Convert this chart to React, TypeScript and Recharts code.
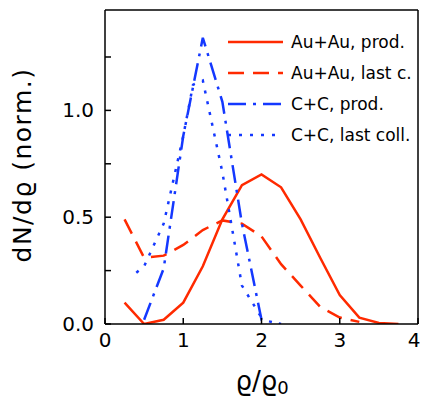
import React from 'react';
import { LineChart, Line, XAxis, YAxis } from 'recharts';

// Au+Au, production points
const auProdX = [0.25, 0.5, 0.75, 1.0, 1.25, 1.5, 1.75, 2.0, 2.25, 2.5, 2.75, 3.0, 3.25, 3.5, 3.75];
const auProdY = [0.1, 0.0, 0.02, 0.1, 0.27, 0.49, 0.65, 0.7, 0.64, 0.49, 0.31, 0.135, 0.03, 0.005, 0.0];

// Au+Au, last collision
const auLastX = [0.25, 0.5, 0.75, 1.0, 1.25, 1.5, 1.75, 2.0, 2.25, 2.5, 2.75, 3.0, 3.25];
const auLastY = [0.49, 0.31, 0.32, 0.37, 0.44, 0.485, 0.47, 0.41, 0.28, 0.18, 0.08, 0.03, 0.01];

// C+C, production points
const ccProdX = [0.5, 0.75, 1.0, 1.25, 1.5, 1.75, 2.0, 2.25];
const ccProdY = [0.02, 0.26, 0.88, 1.34, 1.04, 0.47, 0.02, 0.0];

// C+C, last collision
const ccLastX = [0.4, 0.5, 0.75, 1.0, 1.125, 1.25, 1.5, 1.75, 2.0];
const ccLastY = [0.24, 0.27, 0.47, 0.88, 1.12, 1.14, 0.71, 0.18, 0.03];

const xTicks = [0, 1, 2, 3, 4];
const yTicks = [0, 0.25, 0.5, 0.75, 1.0, 1.25];
const yLabelled = [0, 0.5, 1.0];

const RED = '#ff2a00';
const BLUE = '#1438ff';
const FONT = "'DejaVu Sans', sans-serif";

const toPoints = (xs: number[], ys: number[]) => xs.map((x, i) => ({ x, y: ys[i] }));

const series = [
  { name: 'Au+Au, prod.', data: toPoints(auProdX, auProdY), color: RED, dash: undefined },
  { name: 'Au+Au, last c.', data: toPoints(auLastX, auLastY), color: RED, dash: '16 9' },
  { name: 'C+C, prod.', data: toPoints(ccProdX, ccProdY), color: BLUE, dash: '18 7 3 7' },
  { name: 'C+C, last coll.', data: toPoints(ccLastX, ccLastY), color: BLUE, dash: '3 8' },
];

const LegendBox = () => (
  <svg width={190} height={120} style={{ display: 'block' }}>
    {series.map((s, i) => {
      const y = 12 + i * 31;
      return (
        <g key={s.name}>
          <line x1={2} x2={57} y1={y} y2={y} stroke={s.color} strokeWidth={2.5} strokeDasharray={s.dash} />
          <text x={65} y={y} dominantBaseline="central" fontSize={17} fontFamily={FONT} fill="#000">
            {s.name}
          </text>
        </g>
      );
    })}
  </svg>
);

// bottom tick label; the last one is nudged left so it stays inside the page
const XTick = (props: any) => {
  const { x, y, payload } = props;
  const last = payload.value === xTicks[xTicks.length - 1];
  return (
    <text x={last ? x - 4 : x} y={y} dy="0.71em" textAnchor="middle" fontSize={20} fontFamily={FONT} fill="#000">
      {payload.value}
    </text>
  );
};

const App: React.FC = () => {
  const tickStyle = { fontSize: 20, fill: '#000', fontFamily: FONT };
  return (
    <div style={{ position: 'relative', width: 421, height: 404, background: '#fff' }}>
      <style>{'body { margin: 0; }'}</style>
      <LineChart width={421} height={404} margin={{ top: 10, right: 3, bottom: 0, left: 0 }}>
        <XAxis
          xAxisId="b"
          dataKey="x"
          type="number"
          domain={[0, 4]}
          ticks={xTicks}
          interval={0}
          height={80}
          stroke="#000"
          strokeWidth={1.5}
          tickSize={-6}
          tickMargin={15}
          tick={<XTick />}
          allowDuplicatedCategory={false}
          label={{
            content: () => (
              <text x={262} y={390} textAnchor="middle" fontSize={26} fontFamily={FONT} fill="#000">
                ϱ/ϱ<tspan fontSize={18} dy={4}>0</tspan>
              </text>
            ),
          }}
        />
        <XAxis
          xAxisId="t"
          orientation="top"
          mirror
          dataKey="x"
          type="number"
          domain={[0, 4]}
          ticks={xTicks}
          interval={0}
          stroke="#000"
          strokeWidth={1.5}
          tickSize={6}
          tick={false}
          allowDuplicatedCategory={false}
        />
        <YAxis
          yAxisId="l"
          type="number"
          domain={[0, 1.47]}
          ticks={yTicks}
          interval={0}
          width={105}
          stroke="#000"
          strokeWidth={1.5}
          tickSize={-6}
          tickMargin={17}
          tick={tickStyle}
          tickFormatter={(v: number) => (yLabelled.includes(v) ? v.toFixed(1) : '')}
          allowDataOverflow
          label={{
            content: () => (
              <text
                x={22}
                y={165}
                transform="rotate(-90 22 165)"
                textAnchor="middle"
                dominantBaseline="central"
                fontSize={25}
                letterSpacing={1.5}
                fontFamily={FONT}
                fill="#000"
              >
                dN/dϱ (norm.)
              </text>
            ),
          }}
        />
        <YAxis
          yAxisId="r"
          orientation="right"
          mirror
          type="number"
          domain={[0, 1.47]}
          ticks={yTicks}
          interval={0}
          stroke="#000"
          strokeWidth={1.5}
          tickSize={6}
          tick={false}
          allowDataOverflow
        />
        {series.map((s, i) => (
          <Line
            key={s.name}
            xAxisId={i % 2 === 0 ? 'b' : 't'}
            yAxisId={i % 2 === 0 ? 'l' : 'r'}
            data={s.data}
            dataKey="y"
            type="linear"
            stroke={s.color}
            strokeWidth={2.5}
            strokeDasharray={s.dash}
            dot={false}
            activeDot={false}
            isAnimationActive={false}
          />
        ))}
      </LineChart>
      <div style={{ position: 'absolute', left: 226, top: 30 }}>
        <LegendBox />
      </div>
    </div>
  );
};

export default App;
